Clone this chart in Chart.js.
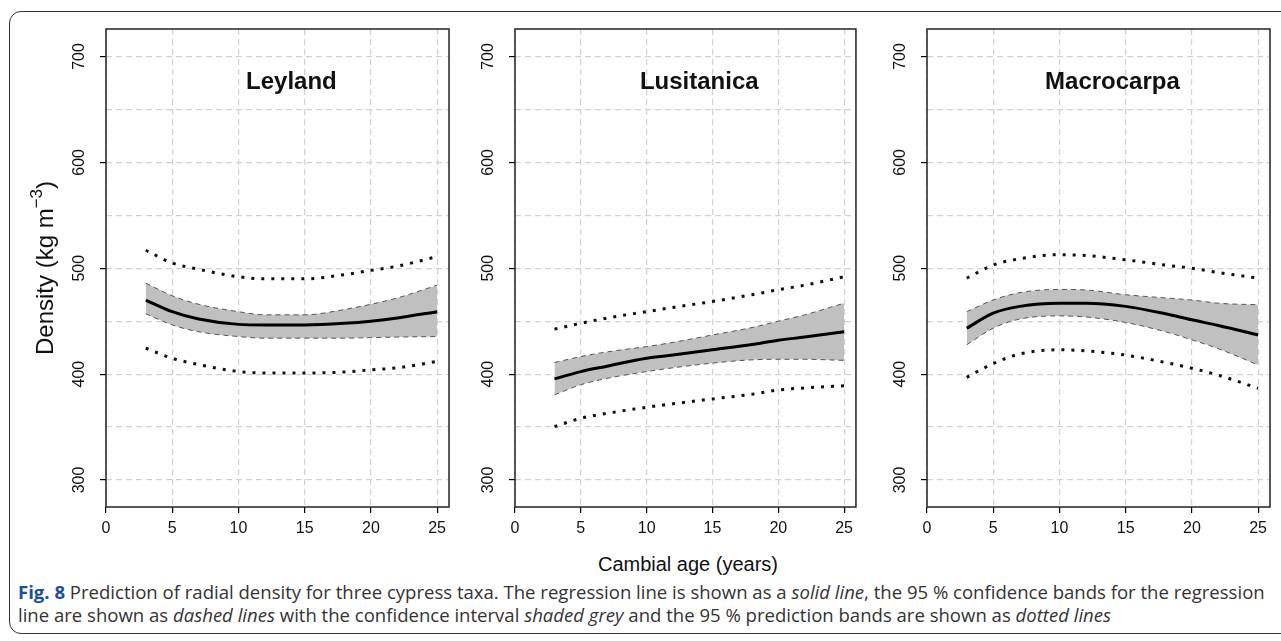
<!DOCTYPE html>
<html>
<head>
<meta charset="utf-8">
<script src="https://cdn.jsdelivr.net/npm/chart.js@4.4.1/dist/chart.umd.min.js"></script>
<style>
  body { margin: 0; background: #fff; width: 1281px; height: 641px; overflow: hidden; position: relative; }
  .frame { position: absolute; left: 9px; top: 11px; width: 1290px; height: 621px; border: 1.5px solid #333; border-radius: 12px; }
  .panel { position: absolute; top: 0; }
  #xtitle { position: absolute; left: 488px; width: 400px; top: 552px; text-align: center;
            font: 20px "Liberation Sans", Arial, sans-serif; color: #111; line-height: 24px; }
  .cap { position: absolute; left: 18px; white-space: nowrap; color: #333;
         font-family: "Open Sans", sans-serif; font-size: 16px; line-height: 23px; }
  .cap b { color: #1d4f9a; }
</style>
</head>
<body>
<div class="frame"></div>
<canvas id="c1" class="panel" width="452" height="545" style="left:0px"></canvas>
<canvas id="c2" class="panel" width="394" height="545" style="left:465px"></canvas>
<canvas id="c3" class="panel" width="396" height="545" style="left:877px"></canvas>
<div id="xtitle">Cambial age (years)</div>
<div class="cap" id="cap1" style="top:580px"><b>Fig. 8</b> Prediction of radial density for three cypress taxa. The regression line is shown as a <i>solid line</i>, the 95 % confidence bands for the regression</div>
<div class="cap" id="cap2" style="top:603px">line are shown as <i>dashed lines</i> with the confidence interval <i>shaded grey</i> and the 95 % prediction bands are shown as <i>dotted lines</i></div>
<script>
// cambial age (years)
const ages = [3, 5, 7, 10, 12, 15, 18, 20, 22, 25];
const xTicks = [0, 5, 10, 15, 20, 25];
const yTicks = [300, 350, 400, 450, 500, 550, 600, 650, 700];
const yLabels = [300, 400, 500, 600, 700];

// Leyland
const leyFit  = [470, 459, 452, 447, 446.5, 446.5, 448, 450, 453, 459];
const leyCiUp = [486, 474, 466, 459, 456, 456, 461, 466, 472, 484];
const leyCiLo = [457, 446.5, 440, 435.5, 434, 434, 434, 434.5, 435, 435.5];
const leyPiUp = [517, 505, 499, 492, 490, 490, 494, 498, 502, 511];
const leyPiLo = [424.5, 415, 409, 402.5, 401, 401, 402, 404, 406, 412];

// Lusitanica
const lusFit  = [395.5, 402.4, 407.5, 415, 418, 423, 428, 432, 435, 440];
const lusCiUp = [411, 416.6, 421, 426, 430, 437, 444, 450, 456, 467];
const lusCiLo = [380.4, 390, 396, 402.4, 406, 410.4, 413.5, 414, 414, 413];
const lusPiUp = [442.5, 448, 453, 459, 463, 468.6, 475, 479.7, 484, 492];
const lusPiLo = [350.4, 358.3, 363, 368.7, 372, 376.6, 381, 385, 387, 389];

// Macrocarpa
const macFit  = [443.4, 457.6, 464, 467, 467, 464, 457, 451.3, 446, 437];
const macCiUp = [459, 470, 477, 480, 479.5, 475, 472, 470, 467, 465.5];
const macCiLo = [427.7, 443.4, 452, 455, 454, 448.8, 440, 432.4, 424, 408.7];
const macPiUp = [490.7, 503, 509, 512.8, 512, 508, 503, 500, 496, 490.7];
const macPiLo = [397, 410, 419, 423, 422, 418, 411, 405.6, 399, 386.7];

const FONT = '"Liberation Sans", Arial, sans-serif';

function pts(vals) {
    return ages.map((a, i) => ({ x: a, y: vals[i] }));
}

// frame, panel title, rotated y labels (and y axis title on the first panel)
const decor = {
    id: 'decor',
    afterDraw(chart) {
        const ctx = chart.ctx;
        const a = chart.chartArea;
        const xs = chart.scales.x;
        const ys = chart.scales.y;
        const o = chart.options.plugins.decor;
        ctx.save();
        ctx.strokeStyle = '#222';
        ctx.lineWidth = 1.5;
        ctx.strokeRect(a.left, a.top, a.right - a.left, a.bottom - a.top);

        ctx.fillStyle = '#111';
        ctx.font = 'bold 24px ' + FONT;
        ctx.textAlign = 'center';
        ctx.textBaseline = 'alphabetic';
        ctx.fillText(o.title, xs.getPixelForValue(14), a.top + 60);

        ctx.font = '16px ' + FONT;
        ctx.textBaseline = 'middle';
        yLabels.forEach(v => {
            ctx.save();
            ctx.translate(a.left - 26, ys.getPixelForValue(v));
            ctx.rotate(-Math.PI / 2);
            ctx.fillText(String(v), 0, 0);
            ctx.restore();
        });

        if (o.yTitle) {
            ctx.save();
            ctx.translate(a.left - 53, (a.top + a.bottom) / 2);
            ctx.rotate(-Math.PI / 2);
            ctx.textBaseline = 'alphabetic';
            ctx.textAlign = 'left';
            const main = 'Density (kg m';
            const sup = '\u22123';
            ctx.font = '24px ' + FONT;
            const w1 = ctx.measureText(main).width;
            const w3 = ctx.measureText(')').width;
            ctx.font = '17px ' + FONT;
            const w2 = ctx.measureText(sup).width;
            const x0 = -(w1 + w2 + w3) / 2;
            ctx.font = '24px ' + FONT;
            ctx.fillText(main, x0, 0);
            ctx.font = '17px ' + FONT;
            ctx.fillText(sup, x0 + w1, -11);
            ctx.font = '24px ' + FONT;
            ctx.fillText(')', x0 + w1 + w2, 0);
            ctx.restore();
        }
        ctx.restore();
    }
};

function makePanel(id, title, fit, ciUp, ciLo, piUp, piLo, yWidth, yTitle) {
    const dash = { borderColor: '#555', borderWidth: 1, borderDash: [5, 4] };
    const dot = { borderColor: '#111', borderWidth: 3, borderDash: [3, 7], borderCapStyle: 'butt' };
    return new Chart(document.getElementById(id), {
        type: 'line',
        data: {
            datasets: [
                { data: pts(fit), borderColor: '#000', borderWidth: 3, order: 0 },
                Object.assign({ data: pts(ciUp), fill: '+1', backgroundColor: '#c0c0c0', order: 1 }, dash),
                Object.assign({ data: pts(ciLo), order: 1 }, dash),
                Object.assign({ data: pts(piUp), order: 2 }, dot),
                Object.assign({ data: pts(piLo), order: 2 }, dot)
            ]
        },
        options: {
            responsive: false,
            animation: false,
            devicePixelRatio: 1,
            layout: { padding: { top: 29, right: 0, left: 0, bottom: 0 } },
            elements: { point: { radius: 0 }, line: { cubicInterpolationMode: 'monotone' } },
            scales: {
                x: {
                    type: 'linear', min: 0, max: 25.9,
                    afterBuildTicks: s => { s.ticks = xTicks.map(v => ({ value: v })); },
                    afterFit: s => { s.height = 38; },
                    grid: { color: '#d2d2d2', lineWidth: 1.2, tickColor: '#000', tickLength: 6, tickWidth: 1.2 },
                    border: { display: false, dash: [6, 4] },
                    ticks: { color: '#111', font: { family: FONT, size: 16 }, padding: 6, maxRotation: 0 }
                },
                y: {
                    min: 274.5, max: 726,
                    afterBuildTicks: s => { s.ticks = yTicks.map(v => ({ value: v })); },
                    afterFit: s => { s.width = yWidth; },
                    grid: {
                        color: '#d2d2d2', lineWidth: 1.2, tickLength: 6, tickWidth: 1.2,
                        tickColor: c => (c.tick && c.tick.value % 100 === 0) ? '#000' : 'rgba(0,0,0,0)'
                    },
                    border: { display: false, dash: [6, 4] },
                    ticks: { display: false }
                }
            },
            plugins: {
                legend: { display: false },
                tooltip: { enabled: false },
                filler: { drawTime: 'beforeDatasetsDraw' },
                decor: { title: title, yTitle: yTitle }
            }
        },
        plugins: [decor]
    });
}

makePanel('c1', 'Leyland', leyFit, leyCiUp, leyCiLo, leyPiUp, leyPiLo, 106, true);
makePanel('c2', 'Lusitanica', lusFit, lusCiUp, lusCiLo, lusPiUp, lusPiLo, 50, false);
makePanel('c3', 'Macrocarpa', macFit, macCiUp, macCiLo, macPiUp, macPiLo, 50, false);

// fit the caption's first line to the width it has in the figure
const cap1 = document.getElementById('cap1');
const cap2 = document.getElementById('cap2');
const fs = 16 * 1247 / cap1.getBoundingClientRect().width;
cap1.style.fontSize = fs + 'px';
cap2.style.fontSize = fs + 'px';
</script>
</body>
</html>
